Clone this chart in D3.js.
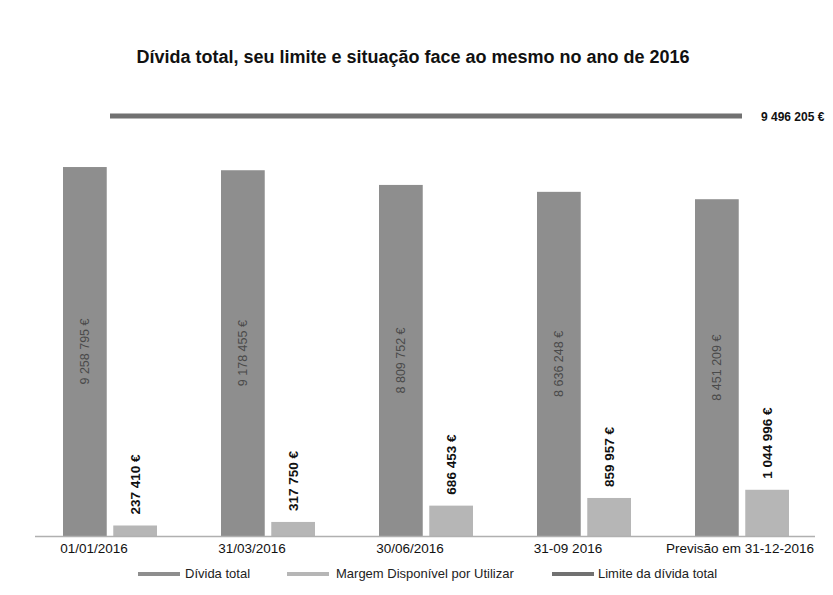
<!DOCTYPE html>
<html>
<head>
<meta charset="utf-8">
<script src="https://cdn.jsdelivr.net/npm/d3@7"></script>
<style>
  html, body { margin: 0; padding: 0; background: #ffffff; }
  svg { display: block; }
  text { font-family: "Liberation Sans", Arial, sans-serif; }
</style>
</head>
<body>
<svg id="chart" width="833" height="595"></svg>
<script>
// ---- data ----
const categories = ["01/01/2016", "31/03/2016", "30/06/2016", "31-09 2016", "Previsão em 31-12-2016"];
const dividaTotal = [9258795, 9178455, 8809752, 8636248, 8451209];
const margemDisponivel = [237410, 317750, 686453, 859957, 1044996];
const limiteDivida = [9496205, 9496205, 9496205, 9496205, 9496205];
const seriesNames = ["Dívida total", "Margem Disponível por Utilizar", "Limite da dívida total"];
const titleText = "Dívida total, seu limite e situação face ao mesmo no ano de 2016";

// ---- layout ----
const W = 833, H = 595;
const baseY = 536;
const colors = { divida: "#8e8e8e", margem: "#b6b6b6", limite: "#717171" };

const svg = d3.select("#chart");
svg.append("rect").attr("width", W).attr("height", H).attr("fill", "#fff");

const fmt = v => d3.format(",")(v).replace(/,/g, " ") + " €";

const x = d3.scaleBand().domain(categories).range([31, 821]).paddingInner(0).paddingOuter(0);
const x1 = d3.scaleBand().domain(["divida", "margem"]).range([x.bandwidth() / 2 - 47, x.bandwidth() / 2 + 47]).paddingInner(0.13);

// primary axis (debt) and secondary axis (margin, limit)
const y1 = d3.scaleLinear().domain([0, 10000000]).range([baseY, 137.5]);
const y2 = d3.scaleLinear().domain([0, 10000000]).range([baseY, 93.7]);

// title
svg.append("text")
  .attr("x", 413).attr("y", 63)
  .attr("text-anchor", "middle")
  .attr("font-size", 18).attr("font-weight", "bold").attr("fill", "#111")
  .text(titleText);

const g = svg.append("g");

const groups = g.selectAll("g.cat").data(categories).join("g")
  .attr("class", "cat")
  .attr("transform", d => `translate(${x(d)},0)`);

groups.append("rect")
  .attr("x", x1("divida")).attr("width", x1.bandwidth())
  .attr("y", (d, i) => y1(dividaTotal[i]))
  .attr("height", (d, i) => baseY - y1(dividaTotal[i]))
  .attr("fill", colors.divida);

groups.append("rect")
  .attr("x", x1("margem")).attr("width", x1.bandwidth())
  .attr("y", (d, i) => y2(margemDisponivel[i]))
  .attr("height", (d, i) => baseY - y2(margemDisponivel[i]))
  .attr("fill", colors.margem);

// debt labels inside bars
groups.append("text")
  .attr("transform", (d, i) => {
    const cx = x1("divida") + x1.bandwidth() / 2;
    const cy = (y1(dividaTotal[i]) + baseY) / 2;
    return `translate(${cx + 4.5},${cy}) rotate(-90)`;
  })
  .attr("text-anchor", "middle")
  .attr("font-size", 12.5).attr("fill", "#4a4a4a")
  .text((d, i) => fmt(dividaTotal[i]));

// margin labels above bars
groups.append("text")
  .attr("transform", (d, i) => {
    const cx = x1("margem") + x1.bandwidth() / 2;
    const cy = y2(margemDisponivel[i]) - 11;
    return `translate(${cx + 5},${cy}) rotate(-90)`;
  })
  .attr("text-anchor", "start")
  .attr("font-size", 13.5).attr("font-weight", "bold").attr("fill", "#111")
  .text((d, i) => fmt(margemDisponivel[i]));

// limit line
const line = d3.line()
  .x((d, i) => x(categories[i]) + x.bandwidth() / 2)
  .y(d => y2(d));
g.append("path")
  .datum(limiteDivida)
  .attr("d", line)
  .attr("fill", "none")
  .attr("stroke", colors.limite)
  .attr("stroke-width", 5);

svg.append("text")
  .attr("x", 761).attr("y", y2(limiteDivida[4]) + 5)
  .attr("font-size", 12).attr("font-weight", "bold").attr("fill", "#111")
  .text(fmt(limiteDivida[4]));

// x axis
const xAxis = svg.append("g")
  .attr("transform", `translate(0,${baseY})`)
  .call(d3.axisBottom(x).tickSize(0).tickPadding(7));
xAxis.select(".domain").attr("stroke", "#b0b0b0").attr("stroke-width", 1.5)
  .attr("d", "M35,0.5H815");
xAxis.selectAll(".tick text")
  .attr("font-size", 13.5).attr("fill", "#111")
  .attr("font-family", "'Liberation Sans', Arial, sans-serif")
  .attr("dx", (d, i) => i === categories.length - 1 ? -2 : -16);

// legend
const legendItems = [
  { name: seriesNames[0], color: colors.divida, sx: 138, tx: 185 },
  { name: seriesNames[1], color: colors.margem, sx: 287, tx: 336 },
  { name: seriesNames[2], color: colors.limite, sx: 552, tx: 598 }
];
const lg = svg.append("g");
legendItems.forEach(it => {
  lg.append("rect").attr("x", it.sx).attr("y", 572).attr("width", 42).attr("height", 4).attr("fill", it.color);
  lg.append("text").attr("x", it.tx).attr("y", 578).attr("font-size", 13).attr("fill", "#222").text(it.name);
});
</script>
</body>
</html>
